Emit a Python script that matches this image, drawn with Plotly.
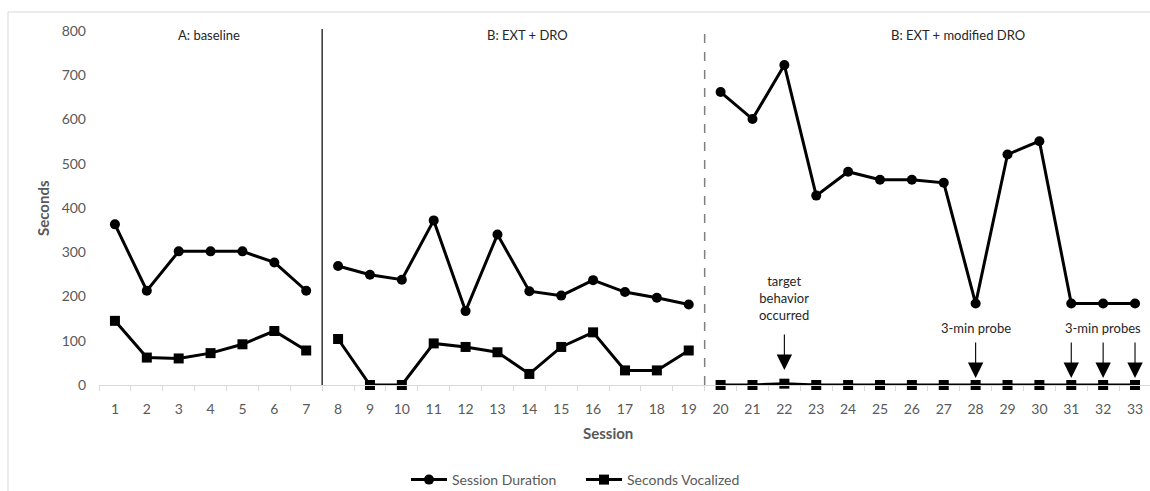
import plotly.graph_objects as go

sessions = list(range(1, 34))
session_duration = [363, 213, 302, 302, 302, 277, 213,
                    269, 249, 238, 372, 167, 340, 212, 202, 237, 210, 197, 182,
                    662, 601, 723, 428, 482, 464, 464, 457, 184, 521, 551, 184, 184, 184]
seconds_vocalized = [145, 62, 60, 72, 92, 122, 78,
                     104, 0, 0, 94, 86, 74, 25, 86, 119, 33, 33, 78,
                     0, 0, 3, 0, 0, 0, 0, 0, 0, 0, 0, 0, 0, 0]
phase_lengths = [7, 12, 14]
phase_labels = ["A: baseline", "B: EXT + DRO", "B: EXT + modified DRO"]
y_ticks = [0, 100, 200, 300, 400, 500, 600, 700, 800]
probe_sessions = [28, 31, 32, 33]
target_session = 22

FONT = "Lato"
GRAY = "#595959"

fig = go.Figure()

bounds = []
start = 0
for n in phase_lengths:
    bounds.append((start, start + n))
    start += n

series = [("Session Duration", session_duration, "circle", 10),
          ("Seconds Vocalized", seconds_vocalized, "square", 10)]
for name, vals, sym, size in series:
    for i, (a, b) in enumerate(bounds):
        fig.add_trace(go.Scatter(
            x=sessions[a:b], y=vals[a:b], mode="lines+markers", name=name,
            legendgroup=name, showlegend=(i == 0),
            line=dict(color="black", width=3),
            marker=dict(symbol=sym, size=size, color="black"),
            cliponaxis=False,
        ))

b1 = sessions[bounds[0][1] - 1] + 0.5
b2 = sessions[bounds[1][1] - 1] + 0.5
fig.add_shape(type="line", xref="x", yref="paper", x0=b1, x1=b1, y0=0, y1=1.006,
              line=dict(color="black", width=1.2))
fig.add_shape(type="line", xref="x", yref="paper", x0=b2, x1=b2, y0=0, y1=0.997,
              line=dict(color="#7f7f7f", width=1.5, dash="dash"))

fig.add_shape(type="rect", xref="paper", yref="paper", x0=-0.0866, x1=1.02, y0=-0.35, y1=1.0537,
              line=dict(color="#d9d9d9", width=1), layer="below")

TXT = dict(family=FONT, size=13, color="#262626")
label_x = [209, 527, 958]
for lab, px in zip(phase_labels, label_x):
    fig.add_annotation(x=(px - 99) / 1051, xref="paper", y=(385 - 35) / 354, yref="paper",
                       xanchor="center", yanchor="middle",
                       text=lab, showarrow=False, font=TXT)

ARROW = dict(showarrow=True, arrowhead=2, arrowsize=2.8, arrowwidth=1.1, arrowcolor="black",
             ax=0, ay=-37, text="")
fig.add_annotation(x=target_session, y=34, **ARROW)
fig.add_annotation(x=target_session, y=197, text="target<br>behavior<br>occurred", showarrow=False,
                   xanchor="center", yanchor="middle", font=TXT)
for s in probe_sessions:
    fig.add_annotation(x=s, y=16, **ARROW)
fig.add_annotation(x=probe_sessions[0], y=129, text="3-min probe", showarrow=False,
                   xanchor="center", yanchor="middle", font=TXT)
fig.add_annotation(x=probe_sessions[2], y=129, text="3-min probes", showarrow=False,
                   xanchor="center", yanchor="middle", font=TXT)

fig.add_annotation(x=(608 - 99) / 1051, y=(385 - 433) / 354, xref="paper", yref="paper",
                   xanchor="center", yanchor="middle",
                   text="<b>Session</b>", showarrow=False, font=dict(family=FONT, size=15, color=GRAY))
fig.add_annotation(x=(43 - 99) / 1051, y=(385 - 208) / 354, xref="paper", yref="paper",
                   xanchor="center", yanchor="middle",
                   text="<b>Seconds</b>", textangle=-90, showarrow=False,
                   font=dict(family=FONT, size=15, color=GRAY))

fig.update_xaxes(
    range=[0.5, 33.47], tickvals=sessions, ticktext=[str(s) for s in sessions],
    ticks="", showgrid=False, zeroline=False,
    showline=True, linecolor="#d9d9d9", linewidth=1,
    tickfont=dict(family=FONT, size=14, color=GRAY),
    minor=dict(tickvals=[s - 0.5 for s in sessions] + [sessions[-1] + 0.5],
               ticks="outside", ticklen=5, tickcolor="#d9d9d9", tickwidth=1),
    ticklabelstandoff=11,
)
fig.update_yaxes(
    range=[0, 800], tickvals=y_ticks, ticks="", showgrid=False, zeroline=False, showline=False,
    tickfont=dict(family=FONT, size=14, color=GRAY), ticklabelstandoff=12,
)

fig.update_layout(
    width=1150, height=491,
    margin=dict(l=99, r=0, t=31, b=106, autoexpand=False),
    paper_bgcolor="white", plot_bgcolor="white",
    showlegend=True,
    legend=dict(orientation="h", x=(406 - 99) / 1051, xanchor="left",
                y=(385 - 480) / 354, yanchor="middle",
                font=dict(family=FONT, size=14, color=GRAY), itemwidth=36, tracegroupgap=0,
                entrywidth=124, entrywidthmode="pixels"),
)

fig.write_html("out.html", config={"displayModeBar": False},
               post_script="document.body.style.margin='0';document.body.style.overflow='hidden';")
